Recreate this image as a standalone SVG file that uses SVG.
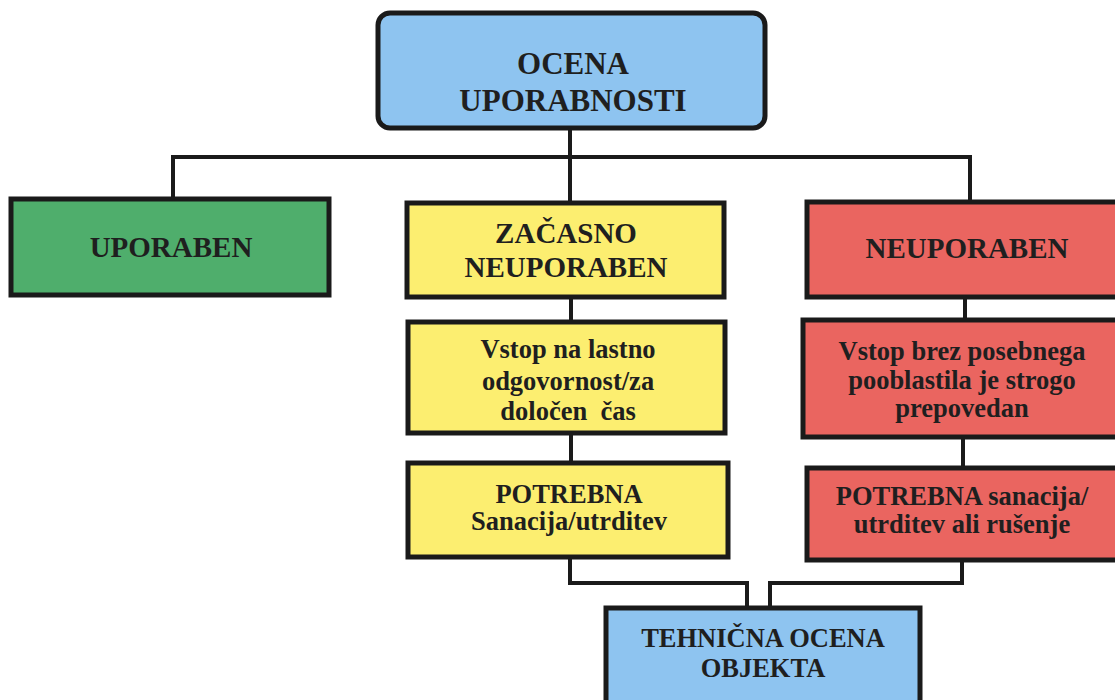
<svg xmlns="http://www.w3.org/2000/svg" width="1115" height="700" viewBox="0 0 1115 700">
<style>
.box{stroke:#1a1a1a;stroke-width:5}
.blue{fill:#8ec4f0}.green{fill:#4fae6c}.yellow{fill:#fcee70}.red{fill:#ea6560}
text{font-family:"Liberation Serif","Times New Roman",serif;font-weight:bold;fill:#1f1f1f;text-anchor:middle}
.big{font-size:31px}.mid{font-size:29px}.sm{font-size:26.5px}
.conn{fill:none;stroke:#1a1a1a;stroke-width:4}
</style>
<rect width="1115" height="700" fill="#ffffff"/>
<g id="connectors">
<line class="conn" x1="570" y1="128" x2="570" y2="203"/>
<path class="conn" d="M173 198 V157 H970 V202"/>
<line class="conn" x1="571" y1="297" x2="571" y2="322"/>
<line class="conn" x1="571" y1="433" x2="571" y2="463"/>
<line class="conn" x1="965" y1="297" x2="965" y2="320"/>
<line class="conn" x1="963" y1="437" x2="963" y2="468"/>
<path class="conn" d="M570 557 V583 H747 V608"/>
<path class="conn" d="M962 560 V583 H770 V608"/>
</g>
<g id="n-ocena">
<rect class="box blue" x="378" y="13" width="387" height="115" rx="12"/>
<text class="big" x="573" y="74">OCENA</text>
<text class="big" x="573" y="111">UPORABNOSTI</text>
</g>
<g id="n-uporaben">
<rect class="box green" x="11" y="199" width="318" height="96"/>
<text class="mid" x="171" y="257">UPORABEN</text>
</g>
<g id="n-zacasno">
<rect class="box yellow" x="407" y="203" width="317" height="94"/>
<text class="mid" x="566" y="243">ZAČASNO</text>
<text class="mid" x="566" y="277">NEUPORABEN</text>
</g>
<g id="n-neuporaben">
<rect class="box red" x="807" y="202" width="312" height="95"/>
<text class="mid" x="967" y="258">NEUPORABEN</text>
</g>
<g id="n-vstop-lastno">
<rect class="box yellow" x="408" y="322" width="317" height="111"/>
<text class="sm" x="568" y="358">Vstop na lastno</text>
<text class="sm" x="568" y="390">odgovornost/za</text>
<text class="sm" x="568" y="420" xml:space="preserve">določen  čas</text>
</g>
<g id="n-vstop-brez">
<rect class="box red" x="803" y="320" width="316" height="117"/>
<text class="sm" x="962" y="360">Vstop brez posebnega</text>
<text class="sm" x="962" y="389">pooblastila je strogo</text>
<text class="sm" x="962" y="417">prepovedan</text>
</g>
<g id="n-potrebna-y">
<rect class="box yellow" x="408" y="463" width="320" height="94"/>
<text class="sm" x="569" y="503">POTREBNA</text>
<text class="sm" x="569" y="530">Sanacija/utrditev</text>
</g>
<g id="n-potrebna-r">
<rect class="box red" x="807" y="468" width="312" height="92"/>
<text class="sm" x="962" y="505">POTREBNA sanacija/</text>
<text class="sm" x="962" y="533">utrditev ali rušenje</text>
</g>
<g id="n-tehnicna">
<rect class="box blue" x="606" y="608" width="314" height="96"/>
<text class="sm" x="763" y="647">TEHNIČNA OCENA</text>
<text class="sm" x="763" y="677">OBJEKTA</text>
</g>
</svg>
